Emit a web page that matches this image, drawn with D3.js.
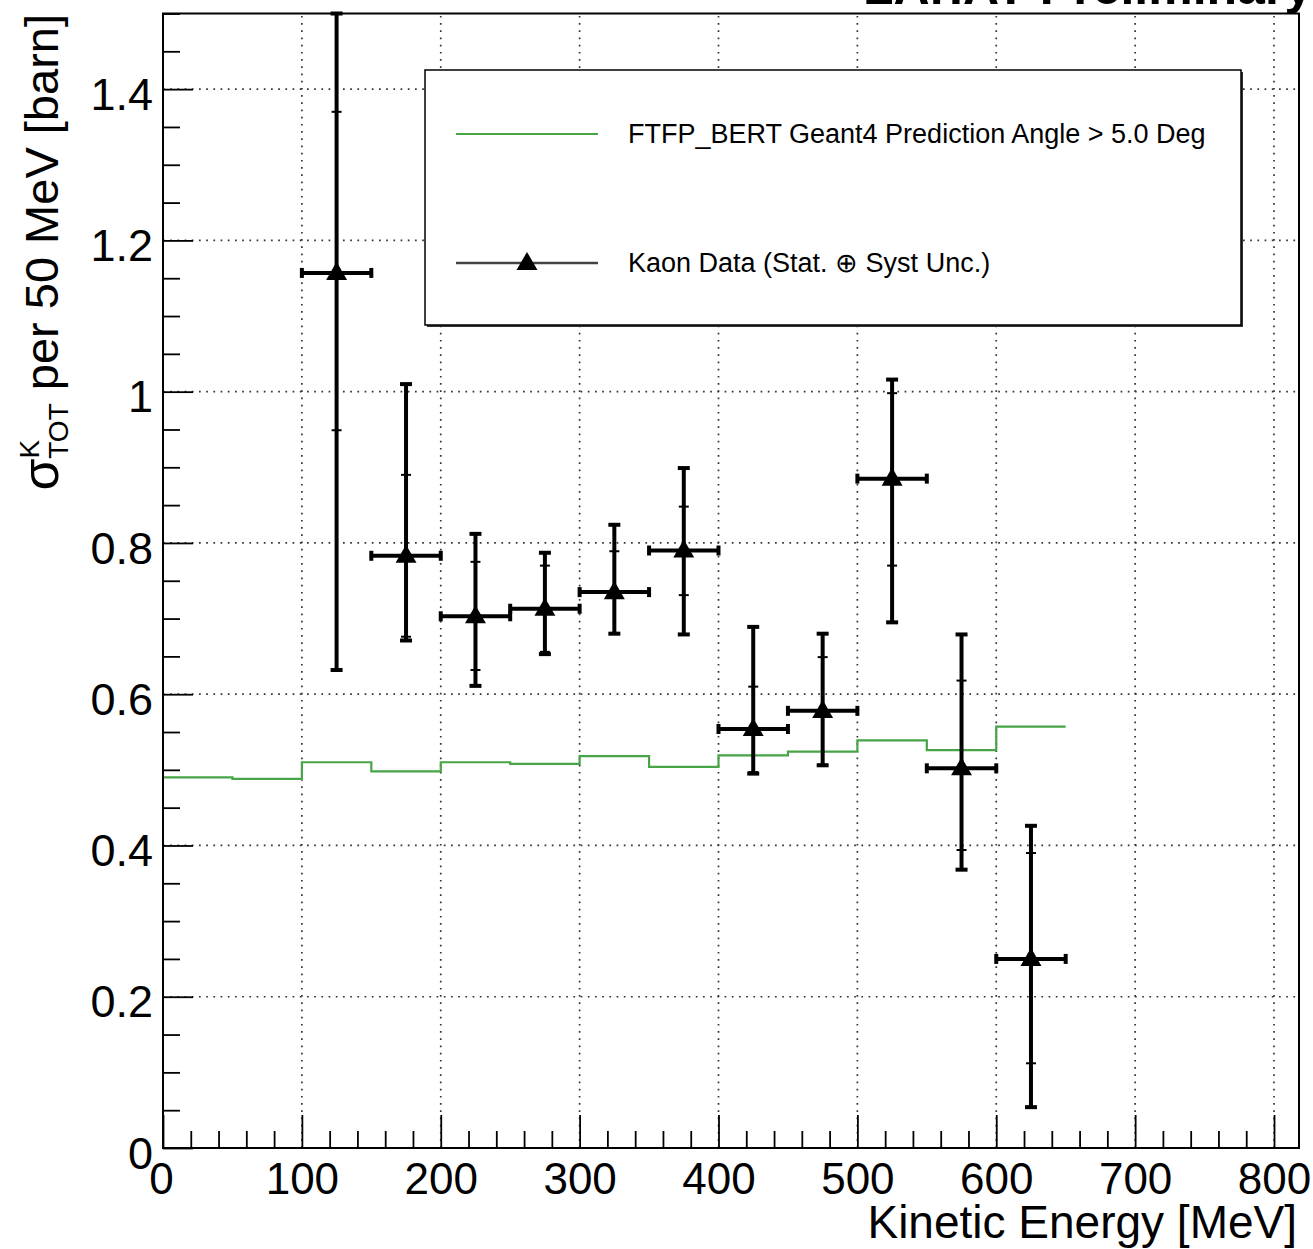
<!DOCTYPE html>
<html><head><meta charset="utf-8">
<script src="https://cdn.jsdelivr.net/npm/d3@7"></script>
<style>
html,body{margin:0;padding:0;background:#fff;}
svg{display:block;font-family:"Liberation Sans",Arial,Helvetica,sans-serif;}
</style></head>
<body>
<svg id="chart" width="1313" height="1249"></svg>
<script>
// ---------- data ----------
const g4BinEdges = [0,50,100,150,200,250,300,350,400,450,500,550,600,650];
const g4Values   = [0.490,0.488,0.510,0.498,0.510,0.508,0.518,0.504,0.519,0.524,0.539,0.526,0.557];

const kaonEnergy   = [125,175,225,275,325,375,425,475,525,575,625];
const kaonELow     = [100,150,200,250,300,350,400,450,500,550,600];
const kaonEHigh    = [150,200,250,300,350,400,450,500,550,600,650];
const kaonValue    = [1.157,0.783,0.703,0.713,0.735,0.790,0.554,0.578,0.885,0.502,0.250];
const kaonStatLow  = [0.949,0.676,0.632,0.656,0.681,0.731,0.497,0.507,0.770,0.394,0.112];
const kaonStatHigh = [1.370,0.890,0.775,0.770,0.789,0.848,0.610,0.649,0.998,0.618,0.390];
const kaonTotLow   = [0.632,0.671,0.611,0.653,0.680,0.679,0.495,0.506,0.695,0.368,0.054];
const kaonTotHigh  = [1.683,1.010,0.812,0.787,0.824,0.899,0.689,0.680,1.016,0.679,0.426];

const xMajorTicks = [0,100,200,300,400,500,600,700,800];
const xTickLabels = ["0","100","200","300","400","500","600","700","800"];
const yMajorTicks = [0,0.2,0.4,0.6,0.8,1.0,1.2,1.4];
const yTickLabels = ["0","0.2","0.4","0.6","0.8","1","1.2","1.4"];

const legendLabels = ["FTFP_BERT Geant4 Prediction Angle > 5.0 Deg","Kaon Data (Stat. \u2295 Syst Unc.)"];

// ---------- layout ----------
const svg = d3.select("#chart");
const L = 163, R = 1299, T = 13.5, B = 1148;
const x = d3.scaleLinear().domain([0, 818]).range([L, R]);
const y = d3.scaleLinear().domain([0, 1.5]).range([B, T]);
const green = "#47a447";

// grid
const grid = svg.append("g").attr("stroke","#333").attr("stroke-width",1.7).attr("stroke-dasharray","1.7,5.5");
grid.selectAll("line.gx").data(xMajorTicks.filter(d=>d>0)).join("line")
  .attr("x1",d=>x(d)).attr("x2",d=>x(d)).attr("y1",B).attr("y2",T);
grid.selectAll("line.gy").data(yMajorTicks.filter(d=>d>0)).join("line")
  .attr("y1",d=>y(d)).attr("y2",d=>y(d)).attr("x1",L).attr("x2",R);

// axes
const xMinor = d3.range(0, 820, 20).filter(d=>d%100!==0);
const yMinor = d3.range(0, 1.5001, 0.05).map(d=>+d.toFixed(2)).filter(d=>Math.abs(d*5-Math.round(d*5))>1e-6);

const xAxis = svg.append("g").attr("transform",`translate(0,${B})`)
  .call(d3.axisBottom(x).tickValues(xMajorTicks).tickSize(-33).tickPadding(15)
        .tickFormat((d,i)=>xTickLabels[i]));
const xAxisMinor = svg.append("g").attr("transform",`translate(0,${B})`)
  .call(d3.axisBottom(x).tickValues(xMinor).tickSize(-17).tickFormat(""));
const yAxis = svg.append("g").attr("transform",`translate(${L},0)`)
  .call(d3.axisLeft(y).tickValues(yMajorTicks).tickSize(-30).tickPadding(10)
        .tickFormat((d,i)=>yTickLabels[i]));
const yAxisMinor = svg.append("g").attr("transform",`translate(${L},0)`)
  .call(d3.axisLeft(y).tickValues(yMinor).tickSize(-17).tickFormat(""));
[xAxis,xAxisMinor,yAxis,yAxisMinor].forEach(g=>{
  g.select(".domain").remove();
  g.selectAll(".tick line").attr("stroke","#000").attr("stroke-width",1.8);
  g.selectAll("text").attr("font-size",45).attr("fill","#000")
   .attr("font-family","'Liberation Sans',Arial,Helvetica,sans-serif");
});
xAxis.selectAll("text").attr("font-size",44).attr("dx", (d)=> d===0 ? "-2" : "0");
yAxis.selectAll("text").attr("dy","0.45em");

// G4 histogram
const g4Pts = g4Values.map((v,i)=>[g4BinEdges[i], v]);
g4Pts.push([g4BinEdges[g4BinEdges.length-1], g4Values[g4Values.length-1]]);
svg.append("path").attr("d", d3.line().x(d=>x(d[0])).y(d=>y(d[1])).curve(d3.curveStepAfter)(g4Pts))
  .attr("fill","none").attr("stroke",green).attr("stroke-width",2.2);

// kaon data
const clip = v => Math.min(v, 1.5);
const kd = kaonEnergy.map((e,i)=>({e, lo:kaonELow[i], hi:kaonEHigh[i], v:kaonValue[i],
  sl:kaonStatLow[i], sh:kaonStatHigh[i], tl:kaonTotLow[i], th:clip(kaonTotHigh[i])}));
const kg = svg.append("g").attr("stroke","#000").attr("fill","none");
const pt = kg.selectAll("g.pt").data(kd).join("g");
pt.append("line").attr("x1",d=>x(d.e)).attr("x2",d=>x(d.e)).attr("y1",d=>y(d.tl)).attr("y2",d=>y(d.th)).attr("stroke-width",4);
pt.append("line").attr("x1",d=>x(d.lo)).attr("x2",d=>x(d.hi)).attr("y1",d=>y(d.v)).attr("y2",d=>y(d.v)).attr("stroke-width",4);
// outer caps
pt.append("line").attr("x1",d=>x(d.e)-6).attr("x2",d=>x(d.e)+6).attr("y1",d=>y(d.tl)).attr("y2",d=>y(d.tl)).attr("stroke-width",4);
pt.append("line").attr("x1",d=>x(d.e)-6).attr("x2",d=>x(d.e)+6).attr("y1",d=>y(d.th)).attr("y2",d=>y(d.th)).attr("stroke-width",4);
pt.append("line").attr("x1",d=>x(d.lo)).attr("x2",d=>x(d.lo)).attr("y1",d=>y(d.v)-5).attr("y2",d=>y(d.v)+5).attr("stroke-width",4);
pt.append("line").attr("x1",d=>x(d.hi)).attr("x2",d=>x(d.hi)).attr("y1",d=>y(d.v)-5).attr("y2",d=>y(d.v)+5).attr("stroke-width",4);
// stat ticks
pt.append("line").attr("x1",d=>x(d.e)-5).attr("x2",d=>x(d.e)+5).attr("y1",d=>y(d.sl)).attr("y2",d=>y(d.sl)).attr("stroke-width",2);
pt.append("line").attr("x1",d=>x(d.e)-5).attr("x2",d=>x(d.e)+5).attr("y1",d=>y(d.sh)).attr("y2",d=>y(d.sh)).attr("stroke-width",2);
const tri = d3.symbol().type(d3.symbolTriangle).size(190);
pt.append("path").attr("d",tri).attr("transform",d=>`translate(${x(d.e)},${y(d.v)+1})`)
  .attr("fill","#000").attr("stroke","none");

// frame
svg.append("rect").attr("x",L).attr("y",T).attr("width",R-L).attr("height",B-T)
  .attr("fill","none").attr("stroke","#000").attr("stroke-width",2);

// legend
const lg = svg.append("g");
lg.append("rect").attr("x",427).attr("y",72).attr("width",816).attr("height",255).attr("fill","#333");
lg.append("rect").attr("x",425).attr("y",70).attr("width",816).attr("height",255)
  .attr("fill","#fff").attr("stroke","#000").attr("stroke-width",1.5);
lg.append("line").attr("x1",456).attr("x2",598).attr("y1",134).attr("y2",134).attr("stroke",green).attr("stroke-width",2.2);
lg.append("line").attr("x1",456).attr("x2",598).attr("y1",263).attr("y2",263).attr("stroke","#444").attr("stroke-width",2.5);
lg.append("path").attr("d",tri).attr("transform","translate(527,264)").attr("fill","#000");
lg.selectAll("text").data(legendLabels).join("text")
  .attr("x",628).attr("y",(d,i)=>i===0?143:272).attr("font-size",27).attr("fill","#000").text(d=>d);

// x title
svg.append("text").attr("x",1297).attr("y",1238).attr("text-anchor","end")
  .attr("font-size",46).attr("fill","#000").text("Kinetic Energy [MeV]");

// y title
const yt = svg.append("text").attr("transform","translate(58,14) rotate(-90)")
  .attr("text-anchor","end").attr("font-size",47).attr("fill","#000");
yt.append("tspan").attr("font-size",52).text("\u03c3");
yt.append("tspan").attr("font-size",28).attr("dy",-19).text("K");
yt.append("tspan").attr("font-size",28).attr("dx",-19).attr("dy",29).text("TOT");
yt.append("tspan").attr("dy",-10).text(" per 50 MeV [barn]");

// cut-off title
svg.append("text").attr("x",863).attr("y",4).attr("font-size",50).attr("font-weight","bold")
  .attr("fill","#000").text("LArIAT Preliminary");
</script>
</body></html>
